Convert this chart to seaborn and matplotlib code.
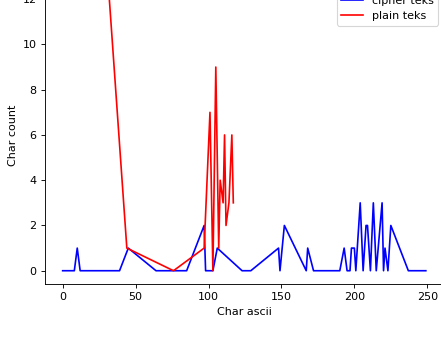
import matplotlib

matplotlib.use("Agg")
import matplotlib.pyplot as plt
import pandas as pd
import seaborn as sns

# ascii code -> count
cipher_ascii = [0, 8, 10, 12, 39, 45, 64, 85, 97, 98, 103, 106, 123, 129,
                148, 149, 152, 167, 168, 172, 190, 193, 195, 197, 198, 200,
                201, 204, 206, 208, 209, 211, 213, 215, 219, 220, 221, 223,
                225, 237, 249]
cipher_count = [0, 0, 1, 0, 0, 1, 0, 0, 2, 0, 0, 1, 0, 0,
                1, 0, 2, 0, 1, 0, 0, 1, 0, 0, 1, 1,
                0, 3, 0, 2, 2, 0, 3, 0, 3, 0, 1, 0,
                2, 0, 0]

plain_ascii = [32, 44, 76, 97, 101, 103, 105, 107, 108, 110, 111, 112, 114,
               116, 117]
plain_count = [12, 1, 0, 1, 7, 0, 9, 1, 4, 3, 6, 2, 3, 6, 3]

cipher = pd.DataFrame({"ascii": cipher_ascii, "count": cipher_count})
plain = pd.DataFrame({"ascii": plain_ascii, "count": plain_count})

fig = plt.figure(figsize=(441 / 80, 343 / 80), dpi=80)
# the reference is a crop: top and right edges of the axes lie just outside
ax = fig.add_axes([44.5 / 441, 58.7 / 343, 399.5 / 441, 298.7 / 343])

sns.lineplot(data=cipher, x="ascii", y="count", color="blue",
             label="cipher teks", ax=ax)
sns.lineplot(data=plain, x="ascii", y="count", color="red",
             label="plain teks", ax=ax)

ax.set_xlabel("Char ascii")
ax.set_ylabel("Char count")
ax.set_xticks([0, 50, 100, 150, 200, 250])
ax.set_yticks([0, 2, 4, 6, 8, 10, 12])
ax.legend(loc="upper right")

fig.savefig("out.png", dpi=80)
plt.close(fig)
